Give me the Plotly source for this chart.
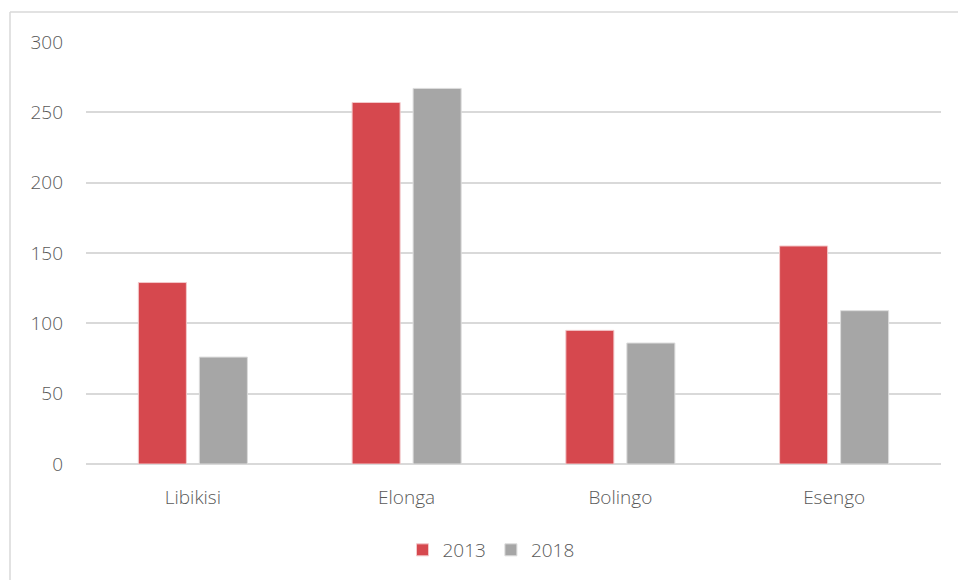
import plotly.graph_objects as go

categories = ["Libikisi", "Elonga", "Bolingo", "Esengo"]
values_2013 = [129, 257, 95, 155]
values_2018 = [76, 267, 86, 109]
y_ticks = [0, 50, 100, 150, 200, 250, 300]

W, H = 958, 580
ML, MR, MT, MB = 86, 17, 42, 115
plot_w = W - ML - MR
plot_h = H - MT - MB

font_color = "#595959"
font_family = "Open Sans, Lato, sans-serif"
label_font = dict(family=font_family, size=19, color=font_color, weight=300)

fig = go.Figure()
fig.add_trace(go.Bar(
    x=categories, y=values_2013, name="2013",
    marker=dict(color="#D6484E", line=dict(color="#F3C9CB", width=1)),
))
fig.add_trace(go.Bar(
    x=categories, y=values_2018, name="2018",
    marker=dict(color="#A6A6A6", line=dict(color="#DCDCDC", width=1)),
))

# frame around the chart: top and left edges
def px_to_paper_x(px):
    return (px - ML) / plot_w

def px_to_paper_y(py):
    return (H - MB - py) / plot_h

frame = dict(color="#D9D9D9", width=1.5)
fig.add_shape(type="line", xref="paper", yref="paper",
              x0=px_to_paper_x(10), x1=px_to_paper_x(960),
              y0=px_to_paper_y(12), y1=px_to_paper_y(12), line=frame)
fig.add_shape(type="line", xref="paper", yref="paper",
              x0=px_to_paper_x(10), x1=px_to_paper_x(10),
              y0=px_to_paper_y(12), y1=px_to_paper_y(582), line=frame)

fig.update_layout(
    width=W, height=H,
    margin=dict(l=ML, r=MR, t=MT, b=MB),
    paper_bgcolor="white", plot_bgcolor="white",
    barmode="group", bargap=0.429, bargroupgap=0.213,
    font=label_font,
    showlegend=True,
    legend=dict(orientation="h", x=px_to_paper_x(491), xanchor="center",
                y=px_to_paper_y(550), yanchor="middle",
                font=label_font, itemwidth=30, traceorder="normal"),
    xaxis=dict(showgrid=False, showline=False, ticks="",
               ticklabelstandoff=20, tickfont=label_font),
    yaxis=dict(range=[0, 300], tickvals=y_ticks, showgrid=True,
               gridcolor="#D9D9D9", gridwidth=1.5, zeroline=True,
               zerolinecolor="#D9D9D9", zerolinewidth=1.5,
               showline=False, ticks="", ticklabelstandoff=22,
               tickfont=label_font),
)

fig.write_html("out.html")
